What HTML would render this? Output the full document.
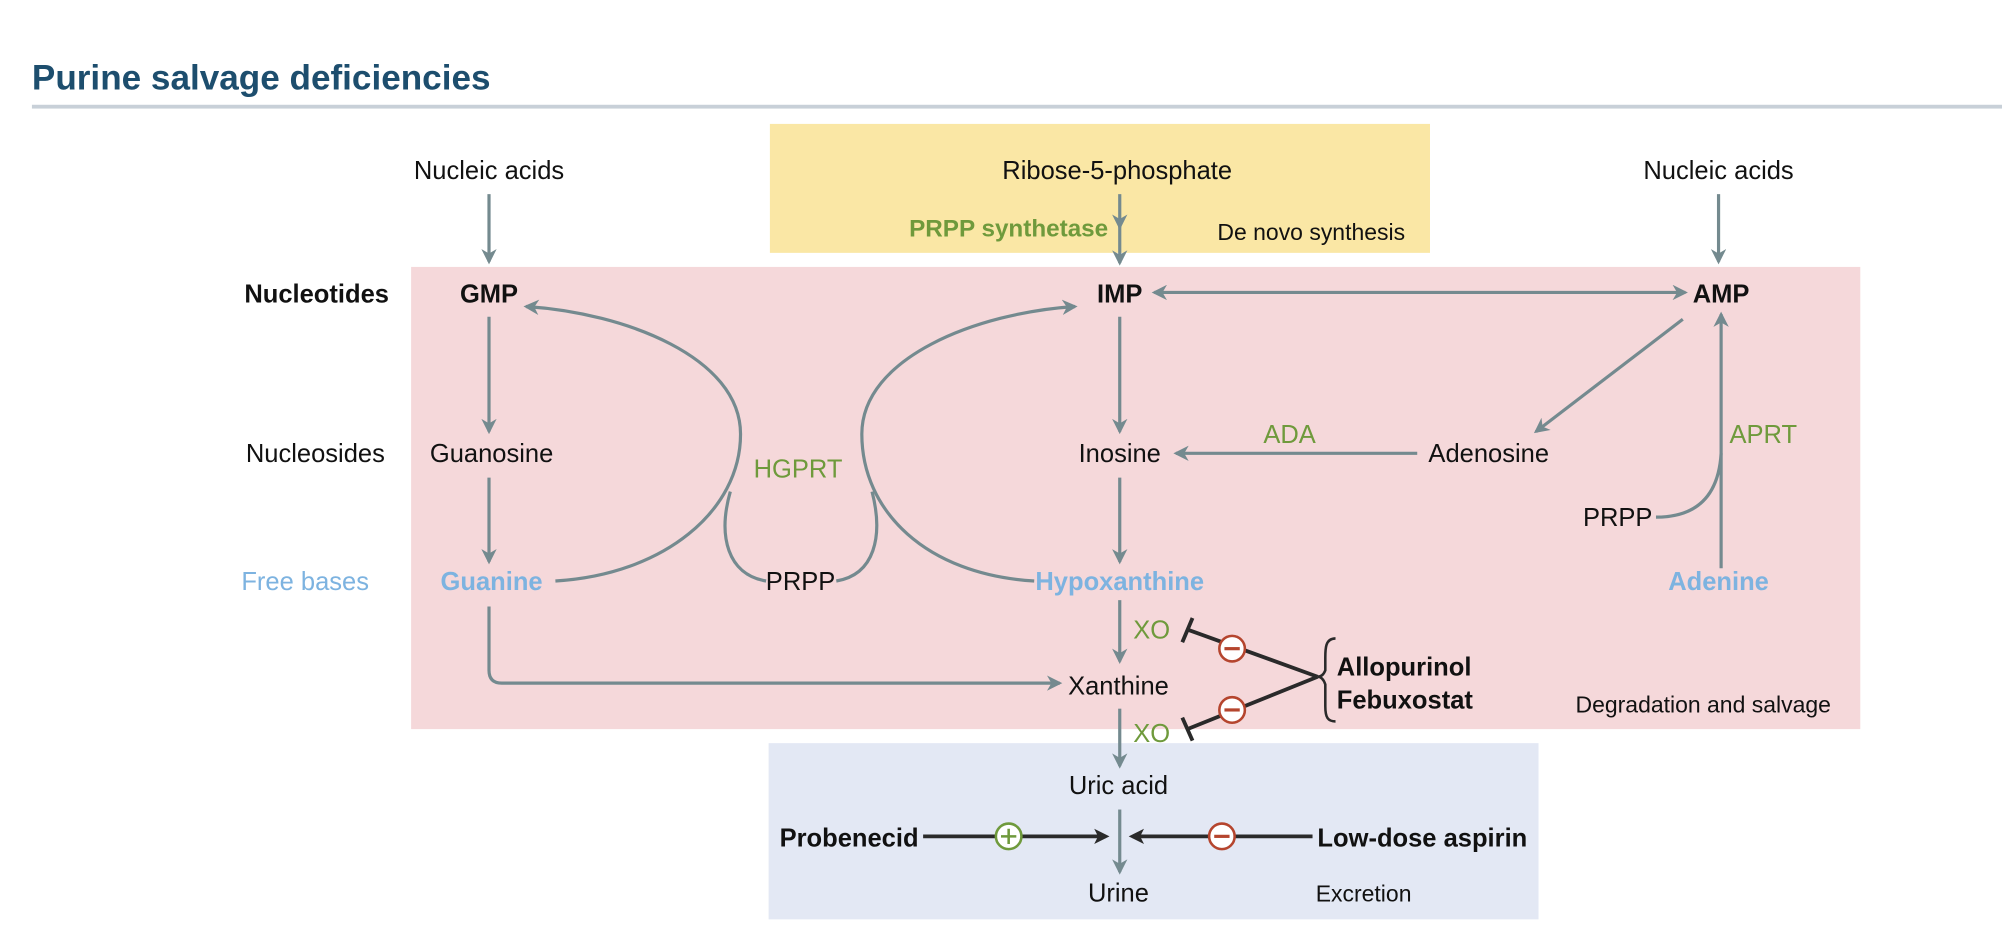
<!DOCTYPE html>
<html><head><meta charset="utf-8"><style>
html,body{margin:0;padding:0;background:#fff;width:2002px;height:936px;overflow:hidden}
svg{display:block}
text{font-family:"Liberation Sans Narrow","Liberation Sans",sans-serif;font-size:20px;fill:#111;text-anchor:middle}
.b{font-weight:bold}.g{fill:#6f9a3c}.bl{fill:#7db3e0}
.ar{stroke:#748a8f;stroke-width:2.5;fill:none}
.ink{stroke:#2a2a2a;stroke-width:3;fill:none}
</style></head><body>
<svg width="2002" height="936" viewBox="0 0 1568 733">
<defs>
<marker id="ah" markerWidth="12" markerHeight="12" refX="10" refY="6" orient="auto-start-reverse" markerUnits="userSpaceOnUse"><path d="M0,0 L12,6 L0,12 L3.5,6 Z" fill="#748a8f"/></marker>
<marker id="ak" markerWidth="12" markerHeight="12" refX="9" refY="6" orient="auto" markerUnits="userSpaceOnUse"><path d="M0,0 L12,6 L0,12 L3,6 Z" fill="#2a2a2a"/></marker>
</defs>
<text x="25" y="70" class="b" style="font-size:27.5px;fill:#1d4e6e;text-anchor:start">Purine salvage deficiencies</text>
<rect x="25" y="82" width="1543" height="3" fill="#c8d0d8"/>
<rect x="603" y="97" width="517" height="101" fill="#fae7a5"/>
<rect x="322" y="209" width="1135" height="362" fill="#f5d8da"/>
<rect x="602" y="582" width="603" height="138" fill="#e3e8f4"/>

<text x="383" y="140">Nucleic acids</text>
<text x="1346" y="140">Nucleic acids</text>
<text x="875" y="140">Ribose-5-phosphate</text>
<text x="790" y="185" class="b g" style="font-size:19px">PRPP synthetase</text>
<text x="1027" y="188" style="font-size:18px">De novo synthesis</text>
<text x="248" y="237" class="b">Nucleotides</text>
<text x="383" y="237" class="b">GMP</text>
<text x="877" y="237" class="b">IMP</text>
<text x="1348" y="237" class="b">AMP</text>
<text x="247" y="362">Nucleosides</text>
<text x="385" y="362">Guanosine</text>
<text x="877" y="362">Inosine</text>
<text x="1010" y="347" class="g">ADA</text>
<text x="1166" y="362">Adenosine</text>
<text x="1381" y="347" class="g">APRT</text>
<text x="625" y="374" class="g">HGPRT</text>
<text x="1267" y="412">PRPP</text>
<text x="239" y="462" class="bl">Free bases</text>
<text x="385" y="462" class="b bl">Guanine</text>
<text x="627" y="462">PRPP</text>
<text x="877" y="462" class="b bl">Hypoxanthine</text>
<text x="1346" y="462" class="b bl">Adenine</text>
<text x="902" y="500" class="g">XO</text>
<text x="876" y="544">Xanthine</text>
<text x="902" y="581" class="g">XO</text>
<text x="1047" y="529" style="text-anchor:start;font-weight:600">Allopurinol</text>
<text x="1047" y="555" style="text-anchor:start;font-weight:600">Febuxostat</text>
<text x="1334" y="558" style="font-size:18px">Degradation and salvage</text>
<text x="876" y="622">Uric acid</text>
<text x="665" y="663" class="b">Probenecid</text>
<text x="1114" y="663" class="b">Low-dose aspirin</text>
<text x="876" y="706">Urine</text>
<text x="1068" y="706" style="font-size:18px">Excretion</text>

<g>
<path class="ar" marker-end="url(#ah)" d="M383,152 L383,205"/>
<path class="ar" marker-end="url(#ah)" d="M877,152 L877,178"/>
<path class="ar" marker-end="url(#ah)" d="M877,176 L877,206"/>
<path class="ar" marker-end="url(#ah)" d="M1346,152 L1346,205"/>
<path class="ar" marker-end="url(#ah)" d="M383,248 L383,338"/>
<path class="ar" marker-end="url(#ah)" d="M383,374 L383,440"/>
<path class="ar" marker-end="url(#ah)" d="M877,248 L877,338"/>
<path class="ar" marker-end="url(#ah)" d="M877,374 L877,440"/>
<path class="ar" marker-end="url(#ah)" d="M877,470 L877,518"/>
<path class="ar" marker-end="url(#ah)" d="M877,555 L877,600"/>
<path class="ar" marker-end="url(#ah)" d="M877,634 L877,683"/>
<path class="ar" marker-start="url(#ah)" marker-end="url(#ah)" d="M904,229 L1320,229"/>
<path class="ar" marker-end="url(#ah)" d="M1318,250 L1203,338"/>
<path class="ar" marker-end="url(#ah)" d="M1110,355 L921,355"/>
<path class="ar" marker-end="url(#ah)" d="M1348,445 L1348,246"/>
<path class="ar" d="M1297,405 Q1345,405 1348,355"/>
<path class="ar" marker-end="url(#ah)" d="M435,455 C520,450 580,400 580,340 C580,280 490,245 412,240"/>
<path class="ar" d="M600,455 C570,450 562,420 572,385"/>
<path class="ar" marker-end="url(#ah)" d="M810,455 C725,450 675,400 675,340 C675,280 765,245 842,240"/>
<path class="ar" d="M655,455 C685,450 692,420 683,385"/>
<path class="ar" marker-end="url(#ah)" d="M383,475 L383,525 Q383,535 393,535 L830,535"/>
</g>
<g>
<path class="ink" d="M1032,530 L930,493 M926,503 L934,484"/>
<path class="ink" d="M1032,530 L930,571 M926,562 L934,580"/>
<path d="M1046,500 C1038,500 1038,508 1038,515 L1038,525 Q1036,530 1032,530 Q1036,530 1038,536 L1038,553 C1038,562 1040,565 1046,565" stroke="#2a2a2a" stroke-width="2" fill="none"/>
<circle cx="965" cy="508" r="10" fill="#fff" stroke="#b5452e" stroke-width="2"/><path d="M959,508 H971" stroke="#b5452e" stroke-width="2.5"/>
<circle cx="965" cy="556" r="10" fill="#fff" stroke="#b5452e" stroke-width="2"/><path d="M959,556 H971" stroke="#b5452e" stroke-width="2.5"/>
<path class="ink" marker-end="url(#ak)" d="M723,655 L866,655"/>
<path class="ink" marker-end="url(#ak)" d="M1028,655 L887,655"/>
<circle cx="790" cy="655" r="10" fill="#fff" stroke="#6f9a3c" stroke-width="2"/><path d="M784,655 H796 M790,649 V661" stroke="#6f9a3c" stroke-width="2"/>
<circle cx="957" cy="655" r="10" fill="#fff" stroke="#b5452e" stroke-width="2"/><path d="M951,655 H963" stroke="#b5452e" stroke-width="2.5"/>
</g>
</svg>
</body></html>
